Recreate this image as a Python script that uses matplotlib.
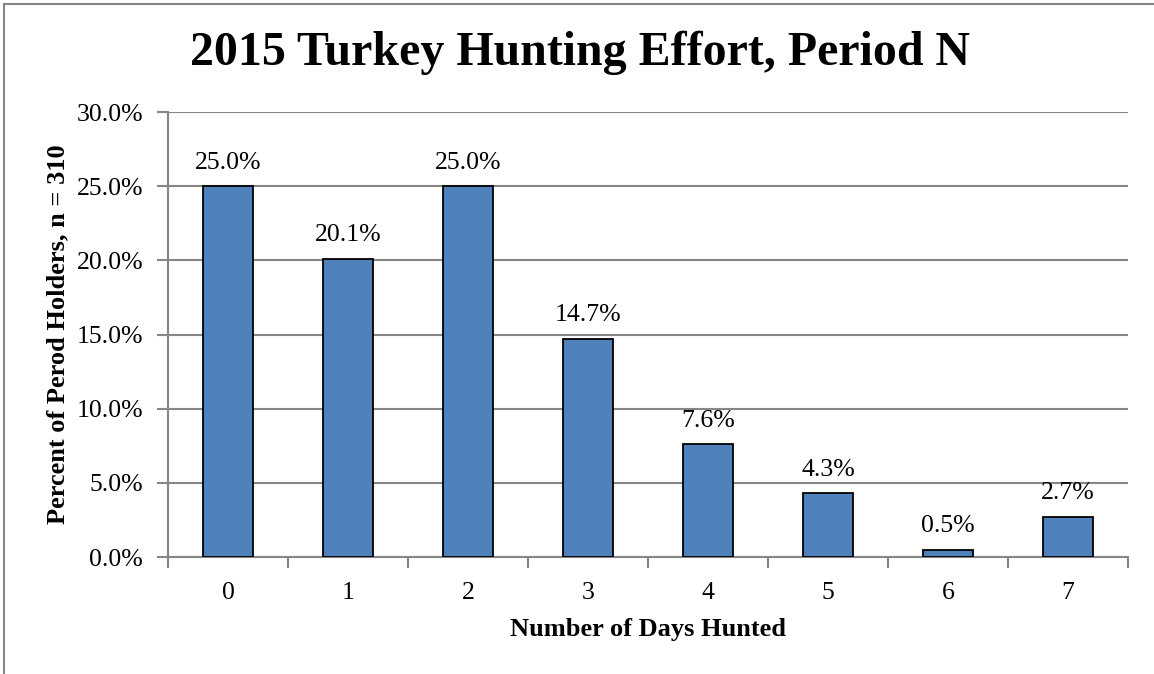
import matplotlib.pyplot as plt
from matplotlib.lines import Line2D
from matplotlib.ticker import MultipleLocator, FuncFormatter

# Share of period holders by number of days hunted
days = ["0", "1", "2", "3", "4", "5", "6", "7"]
percent = [25.0, 20.1, 25.0, 14.7, 7.6, 4.3, 0.5, 2.7]

plt.rcParams["font.family"] = ["Liberation Serif", "DejaVu Serif"]

fig = plt.figure(figsize=(11.54, 6.74), dpi=100)
ax = fig.add_axes([168 / 1154, 1 - 557 / 674, (1128 - 168) / 1154, (557 - 112) / 674])

grid_col = "#868686"
x = range(len(days))
ax.bar(x, percent, width=0.41, color="#4F81BD", edgecolor="black", linewidth=1.3, zorder=3)

for xi, v in zip(x, percent):
    ax.annotate(f"{v:.1f}%", (xi, v), xytext=(0, 9), textcoords="offset points",
                ha="center", va="bottom", fontsize=18.5)

ax.set_xlim(-0.5, len(days) - 0.5)
ax.set_ylim(0, 30)
ax.yaxis.set_major_locator(MultipleLocator(5))
ax.yaxis.set_major_formatter(FuncFormatter(lambda v, _: f"{v:.1f}%"))
ax.grid(axis="y", color=grid_col, linewidth=1.5, zorder=0)

# category labels sit in the middle, ticks fall between categories
ax.set_xticks(list(x))
ax.set_xticklabels(days, fontsize=18.5)
ax.tick_params(axis="x", length=0, pad=18)
ax.set_xticks([i - 0.5 for i in range(len(days) + 1)], minor=True)
ax.tick_params(axis="x", which="minor", length=8, width=1.5, color=grid_col, direction="out")
ax.tick_params(axis="y", length=8, width=1.5, color=grid_col, direction="out", labelsize=18.5, pad=10)

for side in ["top", "right"]:
    ax.spines[side].set_visible(False)
for side in ["left", "bottom"]:
    ax.spines[side].set_color(grid_col)
    ax.spines[side].set_linewidth(1.5)

ax.set_xlabel("Number of Days Hunted", fontsize=19, fontweight="bold", labelpad=10)
ax.set_ylabel("Percent of Perod Holders, n = 310", fontsize=19, fontweight="bold", labelpad=5)

fig.text(580 / 1154, 1 - 53 / 674, "2015 Turkey Hunting Effort, Period N",
         ha="center", va="center", fontsize=34.5, fontweight="bold")

# chart-area frame
fig.add_artist(Line2D([4 / 1154, 4 / 1154], [0, 1 - 4 / 674], color=grid_col, linewidth=1.5))
fig.add_artist(Line2D([4 / 1154, 1], [1 - 4 / 674, 1 - 4 / 674], color=grid_col, linewidth=1.5))

fig.savefig("out.png", dpi=100)
